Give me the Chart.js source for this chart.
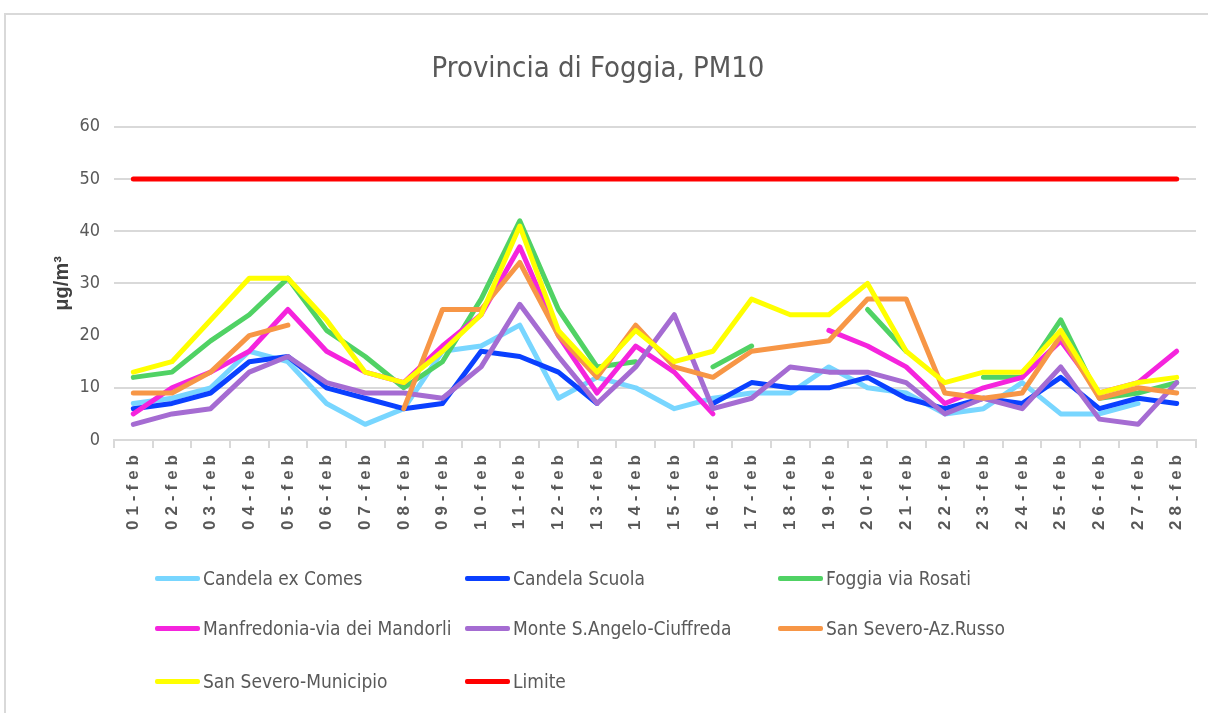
<!DOCTYPE html>
<html>
<head>
<meta charset="utf-8">
<script src="https://cdn.jsdelivr.net/npm/chart.js@4.4.1/dist/chart.umd.min.js"></script>
<style>
  body { margin: 0; background: #fff; }
  #wrap { position: relative; width: 1208px; height: 713px; overflow: hidden; }
  #frame { position: absolute; left: 4px; top: 13px; width: 1300px; height: 800px; border: 2px solid #d9d9d9; }
  #chart { position: absolute; left: 0; top: 0; }
  .item { position: absolute; display: flex; align-items: center; white-space: nowrap;
          font-family: 'DejaVu Sans Condensed', 'Liberation Sans Narrow', sans-serif; font-size: 19px; color: #595959; }
  .item .swatch { display: inline-block; width: 45px; height: 5px; margin-right: 3px; border-radius: 2px; }
</style>
</head>
<body>
<div id="wrap">
  <div id="frame"></div>
  <canvas id="chart" width="1208" height="713"></canvas>
  <div id="legend"></div>
</div>
<script>
const days = ['01-feb','02-feb','03-feb','04-feb','05-feb','06-feb','07-feb','08-feb','09-feb','10-feb',
  '11-feb','12-feb','13-feb','14-feb','15-feb','16-feb','17-feb','18-feb','19-feb','20-feb',
  '21-feb','22-feb','23-feb','24-feb','25-feb','26-feb','27-feb','28-feb'];

const candelaExComes     = [7, 8, 10, 17, 15, 7, 3, 6, 17, 18, 22, 8, 12, 10, 6, 8, 9, 9, 14, 10, 9, 5, 6, 11, 5, 5, 7, null];
const candelaScuola      = [6, 7, 9, 15, 16, 10, 8, 6, 7, 17, 16, 13, 7, null, null, 7, 11, 10, 10, 12, 8, 6, 8, 7, 12, 6, 8, 7];
const foggiaRosati       = [12, 13, 19, 24, 31, 21, 16, 10, 15, 27, 42, 25, 14, 15, null, 14, 18, null, null, 25, 17, null, 12, 12, 23, 8, 9, 11];
const manfredonia        = [5, 10, 13, 17, 25, 17, 13, 11, 18, 24, 37, 20, 9, 18, 13, 5, null, null, 21, 18, 14, 7, 10, 12, 19, 9, 11, 17];
const monteSAngelo       = [3, 5, 6, 13, 16, 11, 9, 9, 8, 14, 26, 16, 7, 14, 24, 6, 8, 14, 13, 13, 11, 5, 8, 6, 14, 4, 3, 11];
const sanSeveroRusso     = [9, 9, 13, 20, 22, null, null, 6, 25, 25, 34, 20, 12, 22, 14, 12, 17, 18, 19, 27, 27, 9, 8, 9, 20, 8, 10, 9];
const sanSeveroMunicipio = [13, 15, 23, 31, 31, 23, 13, 11, 17, 24, 41, 21, 13, 21, 15, 17, 27, 24, 24, 30, 17, 11, 13, 13, 21, 9, 11, 12];
const limite             = [50, 50, 50, 50, 50, 50, 50, 50, 50, 50, 50, 50, 50, 50, 50, 50, 50, 50, 50, 50, 50, 50, 50, 50, 50, 50, 50, 50];

const yTicks = [0, 10, 20, 30, 40, 50, 60];

const series = [
  { label: 'Candela ex Comes', data: candelaExComes, color: '#78d6ff' },
  { label: 'Candela Scuola', data: candelaScuola, color: '#0a40ff' },
  { label: 'Foggia via Rosati', data: foggiaRosati, color: '#50d264' },
  { label: 'Manfredonia-via dei Mandorli', data: manfredonia, color: '#f524dd' },
  { label: 'Monte S.Angelo-Ciuffreda', data: monteSAngelo, color: '#a56cd2' },
  { label: 'San Severo-Az.Russo', data: sanSeveroRusso, color: '#f79646' },
  { label: 'San Severo-Municipio', data: sanSeveroMunicipio, color: '#ffff00' },
  { label: 'Limite', data: limite, color: '#ff0000' }
];

// x labels in the picture are spread out, so draw them with letter spacing
class SpacedCategoryScale extends Chart.CategoryScale {
  drawLabels(area) {
    const ctx = this.ctx;
    ctx.save();
    ctx.letterSpacing = '5px';
    super.drawLabels(area);
    ctx.restore();
  }
}
SpacedCategoryScale.id = 'spacedCategory';
SpacedCategoryScale.defaults = Chart.CategoryScale.defaults;
Chart.register(SpacedCategoryScale);

const grey = '#d9d9d9';
const narrow = "'DejaVu Sans Condensed', 'Liberation Sans Narrow', sans-serif";

const ctx = document.getElementById('chart').getContext('2d');
const chart = new Chart(ctx, {
  type: 'line',
  data: {
    labels: days,
    datasets: series.map((s, i) => ({
      label: s.label,
      data: s.data,
      borderColor: s.color,
      backgroundColor: s.color,
      borderWidth: 5,
      borderCapStyle: 'round',
      borderJoinStyle: 'round',
      pointRadius: 0,
      tension: 0,
      fill: false,
      order: series.length - i
    }))
  },
  options: {
    responsive: false,
    animation: false,
    layout: { padding: { top: 30, left: 0, right: 12, bottom: 173 } },
    plugins: {
      legend: { display: false },
      tooltip: { enabled: false },
      title: {
        display: true,
        text: 'Provincia di Foggia, PM10',
        color: '#595959',
        font: { family: narrow, size: 29, weight: 'normal' },
        padding: { top: 22, bottom: 40 }
      }
    },
    scales: {
      x: {
        type: 'spacedCategory',
        offset: true,
        afterFit: (scale) => { scale.height = 100; },
        grid: { display: true, drawOnChartArea: false, drawTicks: true, tickLength: 8, offset: true, color: grey, lineWidth: 2 },
        border: { display: true, color: grey, width: 2 },
        ticks: {
          autoSkip: false,
          maxRotation: 90,
          minRotation: 90,
          padding: 2,
          color: '#595959',
          font: { family: "'Liberation Sans'", size: 17, weight: 'bold' }
        }
      },
      y: {
        min: 0,
        max: 60,
        afterFit: (scale) => { scale.width = 114; },
        afterBuildTicks: (scale) => { scale.ticks = yTicks.map(v => ({ value: v })); },
        grid: {
          drawTicks: false,
          lineWidth: 2,
          color: (c) => (c.tick && c.tick.value === 20 ? 'rgba(0,0,0,0)' : grey)
        },
        border: { display: false },
        ticks: {
          padding: 14,
          color: '#595959',
          font: { family: narrow, size: 18 }
        },
        title: {
          display: true,
          text: 'μg/m³',
          color: '#404040',
          font: { family: "'Liberation Sans'", size: 20, weight: 'bold' },
          padding: { top: 50, bottom: 0 }
        }
      }
    }
  }
});

// legend in three columns, like the original
const legendCols = [155, 465, 778];
const legendRows = [578, 628, 681];
const legend = document.getElementById('legend');
series.forEach((s, i) => {
  const item = document.createElement('div');
  item.className = 'item';
  item.style.left = legendCols[i % 3] + 'px';
  item.style.top = (legendRows[Math.floor(i / 3)] - 14) + 'px';
  item.style.height = '28px';
  const sw = document.createElement('span');
  sw.className = 'swatch';
  sw.style.background = s.color;
  const tx = document.createElement('span');
  tx.textContent = s.label;
  item.appendChild(sw);
  item.appendChild(tx);
  legend.appendChild(item);
});
</script>
</body>
</html>
